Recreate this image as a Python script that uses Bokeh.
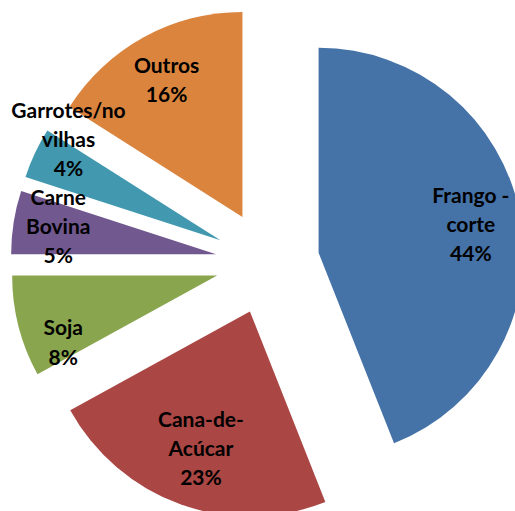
import math
from bokeh.plotting import figure
from bokeh.models import Range1d, ColumnDataSource
from bokeh.core.properties import value
from bokeh.embed import file_html
from bokeh.resources import INLINE

# ---- data ----
categories = ["Frango -\ncorte", "Cana-de-\nAcúcar", "Soja", "Carne\nBovina", "Garrotes/no\nvilhas", "Outros"]
shares = [44, 23, 8, 5, 4, 16]
colors = ["#4572A7", "#AA4643", "#89A54E", "#71588F", "#4198AF", "#DB843D"]

# ---- layout (pixels) ----
RADIUS = 205
EXPLODE = 52
label_radius_frac = [0.756, 0.705, 0.817, 0.783, 0.893, 0.768]
label_angle_nudge = [0.0, 0.0, 8.8, -1.4, -8.7, 0.0]   # degrees, math direction

W, H = 515, 511
CX, CY = 267, 262          # pie centre in picture pixels
x0 = -CX
y0 = CY

total = float(sum(shares))
starts, ends, ax, ay, lx, ly, texts = [], [], [], [], [], [], []
cum = 0.0
for i, v in enumerate(shares):
    f0 = cum / total
    cum += v
    f1 = cum / total
    s = math.radians(90 - 360 * f0)
    e = math.radians(90 - 360 * f1)
    mid = math.radians(90 - 360 * (f0 + f1) / 2)
    cx = EXPLODE * math.cos(mid)
    cy = EXPLODE * math.sin(mid)
    starts.append(s)
    ends.append(e)
    ax.append(cx)
    ay.append(cy)
    la = mid + math.radians(label_angle_nudge[i])
    rr = RADIUS * label_radius_frac[i]
    lx.append(cx + rr * math.cos(la))
    ly.append(cy + rr * math.sin(la))
    texts.append(f"{categories[i]}\n{round(100 * v / total)}%")

src = ColumnDataSource(dict(x=ax, y=ay, start=starts, end=ends, color=colors))
lsrc = ColumnDataSource(dict(x=lx, y=ly, text=texts))

p = figure(width=W, height=H, output_backend="svg", toolbar_location=None,
           x_range=Range1d(x0, x0 + W), y_range=Range1d(y0 - H, y0),
           min_border=0)
p.axis.visible = False
p.grid.visible = False
p.outline_line_color = None
p.background_fill_color = "white"
p.border_fill_color = "white"

p.wedge(x="x", y="y", radius=RADIUS, start_angle="start", end_angle="end",
        direction="clock", fill_color="color", line_color=None, source=src)

p.text(x="x", y="y", text="text", source=lsrc,
       text_font=value("Lato"), text_font_style="bold",
       text_font_size="21px", text_align="center", text_baseline="middle",
       text_line_height=1.17, text_color="black")

open("out.html", "w").write(file_html(p, INLINE))
